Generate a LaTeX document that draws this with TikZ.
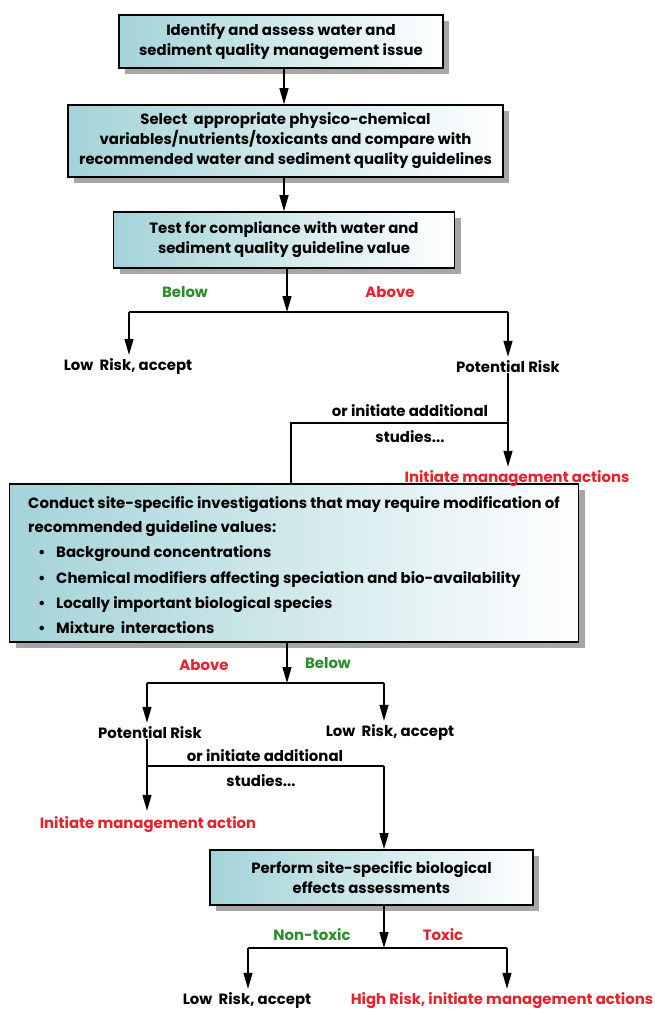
\documentclass[tikz,border=0pt]{standalone}
\usepackage{fontspec}
\setmainfont{Poppins}
\usetikzlibrary{arrows.meta,shadows,calc}
\definecolor{boxteal}{HTML}{A3D3D8}
\definecolor{redtxt}{HTML}{E8212B}
\definecolor{greentxt}{HTML}{2A8F2A}
\newcommand\lblfont{\fontsize{14.9}{20}\selectfont\bfseries}
\tikzset{
  flowbox/.style={draw=black, line width=1.6pt, left color=boxteal, right color=white,
    drop shadow={shadow xshift=6pt, shadow yshift=-6pt, fill=black!35, opacity=1},
    inner sep=0pt, align=center, font=\lblfont},
  plain/.style={inner sep=0pt, font=\lblfont, text=black},
  redlbl/.style={plain, text=redtxt},
  greenlbl/.style={plain, text=greentxt},
  conn/.style={line width=1.4pt},
  arr/.style={conn, -{Triangle[length=16pt,width=9pt]}}
}
\begin{document}
\begin{tikzpicture}[x=1pt,y=-1pt]
\useasboundingbox (0,0) rectangle (655,1012);

% main process boxes
\node[flowbox, minimum width=324pt, minimum height=53pt] (b1) at (281,41.5)
  {Identify and assess water and\\sediment quality management issue};
\node[flowbox, minimum width=435pt, minimum height=72pt] (b2) at (285.5,141)
  {Select\ \ appropriate physico-chemical\\variables/nutrients/toxicants and compare with\\recommended water and sediment quality guidelines};
\node[flowbox, minimum width=341pt, minimum height=56pt] (b3) at (284,240)
  {Test for compliance with water and\\sediment quality guideline value};
\node[flowbox, minimum width=569pt, minimum height=158pt] (b4) at (294,563) {};
\node[flowbox, minimum width=323pt, minimum height=55pt] (b5) at (371.5,877.5)
  {Perform site-specific biological\\effects assessments};

% text of the investigation box
\node[plain, anchor=base west] (t4a) at (28,508) {Conduct site-specific investigations that may require modification of};
\node[plain, anchor=base west] (t4b) at (28,532) {recommended guideline values:};
\node[plain, anchor=base west] (t4c) at (38,557) {\makebox[18pt][l]{\textbullet}Background concentrations};
\node[plain, anchor=base west] (t4d) at (38,583) {\makebox[18pt][l]{\textbullet}Chemical modifiers affecting speciation and bio-availability};
\node[plain, anchor=base west] (t4e) at (38,608) {\makebox[18pt][l]{\textbullet}Locally important biological species};
\node[plain, anchor=base west] (t4f) at (38,633) {\makebox[18pt][l]{\textbullet}Mixture\ \ interactions};

% first decision
\coordinate (j1) at (287,312);
\coordinate (j1l) at (129,312);
\coordinate (j1r) at (508,312);
\node[greenlbl] (below1) at (185,292) {Below};
\node[redlbl] (above1) at (390,292) {Above};
\node[plain] (low1) at (128,367) {Low\ \ Risk, accept};
\node[plain] (pot1) at (508,367) {Potential Risk};
\node[redlbl] (act1) at (517,479) {Initiate management actions};
\coordinate (k1) at (508,423);
\coordinate (k1l) at (291,423);
\node[plain] (or1) at (410,411) {or initiate additional};
\node[plain] (st1) at (410,437) {studies...};

% second decision
\coordinate (j2) at (287,683);
\coordinate (j2l) at (147,683);
\coordinate (j2r) at (384,683);
\node[redlbl] (above2) at (204,665) {Above};
\node[greenlbl] (below2) at (328,663) {Below};
\node[plain] (pot2) at (150,733) {Potential Risk};
\node[plain] (low2) at (390,733) {Low\ \ Risk, accept};
\node[redlbl] (act2) at (148,825) {Initiate management action};
\coordinate (k2) at (147,766);
\coordinate (k2r) at (384,766);
\node[plain] (or2) at (265,756) {or initiate additional};
\node[plain] (st2) at (261,781) {studies...};

% biological assessment outcome
\coordinate (j3) at (384,948);
\coordinate (j3l) at (248,948);
\coordinate (j3r) at (507,948);
\node[greenlbl] (ntox) at (312,935) {Non-toxic};
\node[redlbl] (tox) at (443,935) {Toxic};
\node[plain] (low3) at (247,1001) {Low\ \ Risk, accept};
\node[redlbl] (high) at (502,1001) {High Risk, initiate management actions};

% connectors
\draw[arr] (b1.south -| 284,0) -- (b2.north -| 284,0);
\draw[arr] (b2.south -| 284,0) -- (b3.north -| 284,0);
\draw[arr] (b3.south -| j1) -- (j1);
\draw[conn] (j1l) -- (j1r);
\draw[arr] (j1l) -- ($(j1l |- low1.north)+(0,-4)$);
\draw[arr] (j1r) -- ($(j1r |- pot1.north)+(0,-4)$);
\draw[arr] (pot1.south) -- ($(pot1 |- act1.north)+(0,-4)$);
\draw[conn] (k1) -- (k1l) -- (k1l |- b4.north);

\draw[arr] (b4.south -| j2) -- (j2);
\draw[conn] (j2l) -- (j2r);
\draw[arr] (j2l) -- ($(j2l |- pot2.north)+(0,-4)$);
\draw[arr] (j2r) -- ($(j2r |- low2.north)+(0,-4)$);
\draw[arr] (pot2.south -| k2) -- ($(k2 |- act2.north)+(0,-6)$);
\draw[conn] (k2) -- (k2r);
\draw[arr] (k2r) -- (k2r |- b5.north);

\draw[arr] (b5.south -| j3) -- (j3);
\draw[conn] (j3l) -- (j3r);
\draw[arr] (j3l) -- ($(j3l |- low3.north)+(0,-4)$);
\draw[arr] (j3r) -- ($(j3r |- high.north)+(0,-4)$);
\end{tikzpicture}
\end{document}
